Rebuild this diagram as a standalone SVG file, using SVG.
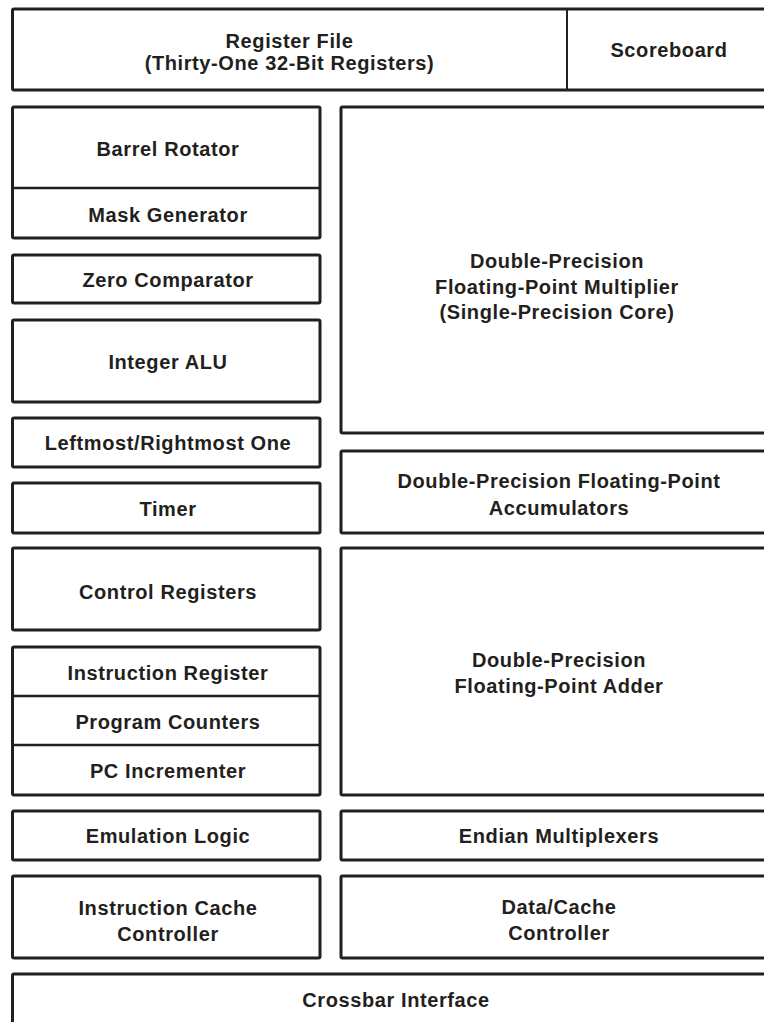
<svg xmlns="http://www.w3.org/2000/svg" width="764" height="1022" viewBox="0 0 764 1022">
<style>
.b{fill:#fff;stroke:#231f20;stroke-width:3}
.d{stroke:#231f20;stroke-width:2.5;fill:none}
text{font-family:"Liberation Sans",Arial,Helvetica,sans-serif;font-weight:bold;font-size:20px;letter-spacing:0.6px;fill:#231f20;text-anchor:middle}
</style>
<rect width="764" height="1022" fill="#fff"/>
<g id="register-file">
<rect class="b" x="12.5" y="9" width="780" height="81" rx="1.5"/>
<text x="289.5" y="47.5">Register File</text>
<text x="289.5" y="70">(Thirty-One 32-Bit Registers)</text>
</g>
<g id="scoreboard">
<line class="d" x1="567" y1="9" x2="567" y2="90" style="stroke-width:2"/>
<text x="669" y="57">Scoreboard</text>
</g>
<g id="barrel-rotator">
<rect class="b" x="12.5" y="107" width="307.5" height="131" rx="1.5"/>
<text x="168" y="156">Barrel Rotator</text>
</g>
<g id="mask-generator">
<line class="d" x1="12.5" y1="188" x2="320" y2="188"/>
<text x="168" y="221.5">Mask Generator</text>
</g>
<g id="zero-comparator">
<rect class="b" x="12.5" y="255" width="307.5" height="48" rx="1.5"/>
<text x="168" y="286.5">Zero Comparator</text>
</g>
<g id="integer-alu">
<rect class="b" x="12.5" y="320" width="307.5" height="82" rx="1.5"/>
<text x="168" y="369">Integer ALU</text>
</g>
<g id="leftmost-rightmost-one">
<rect class="b" x="12.5" y="418" width="307.5" height="49" rx="1.5"/>
<text x="168" y="450">Leftmost/Rightmost One</text>
</g>
<g id="timer">
<rect class="b" x="12.5" y="483" width="307.5" height="50" rx="1.5"/>
<text x="168" y="515.5">Timer</text>
</g>
<g id="control-registers">
<rect class="b" x="12.5" y="548" width="307.5" height="82" rx="1.5"/>
<text x="168" y="599">Control Registers</text>
</g>
<g id="instruction-register">
<rect class="b" x="12.5" y="647" width="307.5" height="148" rx="1.5"/>
<text x="168" y="680">Instruction Register</text>
</g>
<g id="program-counters">
<line class="d" x1="12.5" y1="696" x2="320" y2="696"/>
<text x="168" y="728.5">Program Counters</text>
</g>
<g id="pc-incrementer">
<line class="d" x1="12.5" y1="745" x2="320" y2="745"/>
<text x="168" y="777.5">PC Incrementer</text>
</g>
<g id="emulation-logic">
<rect class="b" x="12.5" y="811" width="307.5" height="49" rx="1.5"/>
<text x="168" y="842.5">Emulation Logic</text>
</g>
<g id="instruction-cache-controller">
<rect class="b" x="12.5" y="876" width="307.5" height="82" rx="1.5"/>
<text x="168" y="915">Instruction Cache</text>
<text x="168" y="941">Controller</text>
</g>
<g id="crossbar-interface">
<rect class="b" x="12.5" y="974" width="780" height="80" rx="1.5"/>
<text x="396" y="1006.5">Crossbar Interface</text>
</g>
<g id="fp-multiplier">
<rect class="b" x="341" y="107" width="450" height="326" rx="1.5"/>
<text x="557" y="267.5">Double-Precision</text>
<text x="557" y="293.5">Floating-Point Multiplier</text>
<text x="557" y="319">(Single-Precision Core)</text>
</g>
<g id="fp-accumulators">
<rect class="b" x="341" y="451" width="450" height="82" rx="1.5"/>
<text x="559" y="488">Double-Precision Floating-Point</text>
<text x="559" y="515">Accumulators</text>
</g>
<g id="fp-adder">
<rect class="b" x="341" y="548" width="450" height="247" rx="1.5"/>
<text x="559" y="667">Double-Precision</text>
<text x="559" y="693">Floating-Point Adder</text>
</g>
<g id="endian-multiplexers">
<rect class="b" x="341" y="811" width="450" height="49" rx="1.5"/>
<text x="559" y="842.5">Endian Multiplexers</text>
</g>
<g id="data-cache-controller">
<rect class="b" x="341" y="876" width="450" height="82" rx="1.5"/>
<text x="559" y="914">Data/Cache</text>
<text x="559" y="940">Controller</text>
</g>
<g id="connectors"></g>
</svg>
